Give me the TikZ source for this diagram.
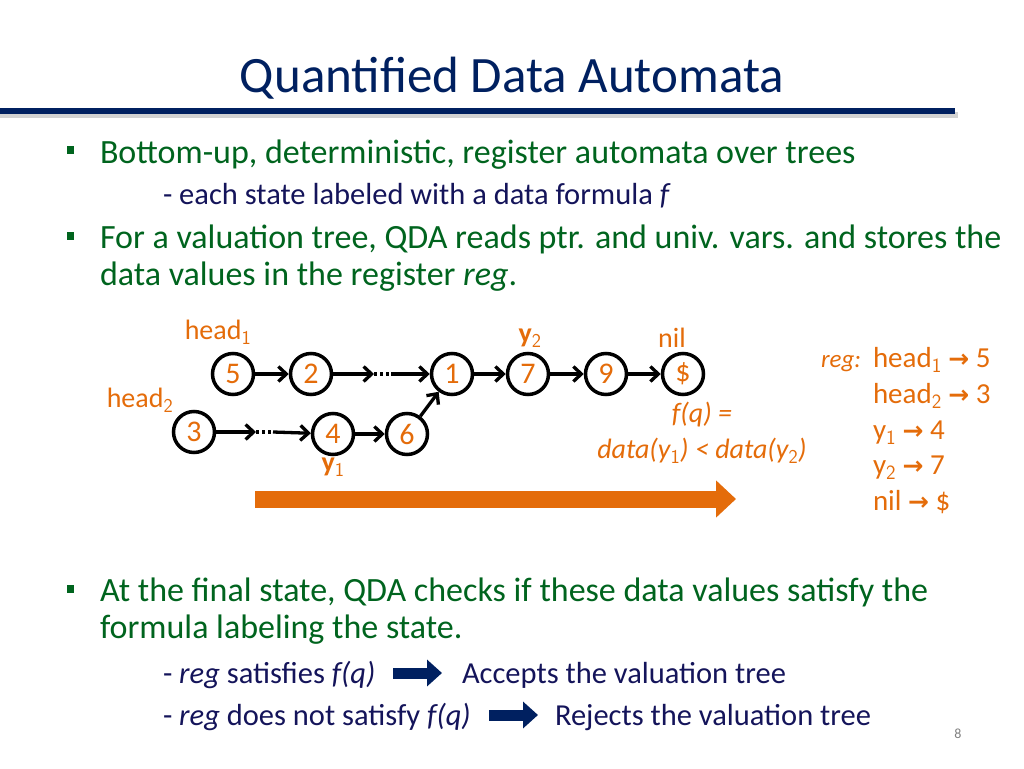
\documentclass[tikz,border=0pt]{standalone}
\usepackage{fontspec}
\setmainfont{Carlito}
\newfontfamily\symfont{DejaVu Sans}
\usetikzlibrary{arrows.meta}
\definecolor{navy}{RGB}{0,32,96}
\definecolor{subnavy}{RGB}{20,20,90}
\definecolor{bulgreen}{RGB}{0,100,30}
\definecolor{orng}{RGB}{228,108,10}
\newcommand{\ra}{{\symfont\bfseries\fontsize{25}{28}\selectfont →}}
\tikzset{
  txt/.style={anchor=base west, inner sep=0pt, outer sep=0pt},
  bodytxt/.style={txt, text=bulgreen, font=\fontsize{34}{38}\selectfont},
  subtxt/.style={txt, text=subnavy, font=\fontsize{30.5}{34}\selectfont},
  bulletsq/.style={fill=bulgreen, minimum width=7pt, minimum height=8pt, inner sep=0pt},
  st/.style={circle, draw=black, line width=3.5pt, minimum size=41pt, inner sep=0pt, text=orng, font=\fontsize{30}{32}\selectfont},
  lbl/.style={text=orng, inner sep=0pt, font=\fontsize{28}{30}\selectfont},
  edge/.style={line width=3.3pt, -{Straight Barb[length=8pt,width=15pt,line width=3.3pt]}},
  dots/.style={line width=3.3pt, dash pattern=on 2.5pt off 3.5pt},
  regtxt/.style={txt, text=orng, font=\fontsize{29}{32}\selectfont},
  blockarr/.style={navy, line width=11pt, -{Triangle[length=15pt,width=26pt]}},
}
\begin{document}
\begin{tikzpicture}[x=1pt,y=-1pt]
\useasboundingbox (0,0) rectangle (1024,768);
% title
\node[anchor=base, inner sep=0pt, text=navy, font=\fontsize{51}{56}\selectfont] (title) at (512,92) {Quantified Data Automata};
\fill[gray!35] (0,112) rectangle (958,118);
\fill[navy] (0,108) rectangle (955,114);
% bullets
\node[bulletsq] (b1) at (70,150) {};
\node[bodytxt] (t1) at (100,163) {Bottom-up, deterministic, register automata over trees};
\node[subtxt] (s1) at (163,204) {- each state labeled with a data formula \textit{f}};
\node[bulletsq] (b2) at (70,236) {};
\node[bodytxt] (t2) at (100,248) {For a valuation tree, QDA reads ptr. and univ. vars. and stores the};
\node[bodytxt] (t2b) at (100,285) {data values in the register \textit{reg}.};
% diagram
\node[st] (n5) at (233,374) {5};
\node[st] (n2) at (311,374) {2};
\node[st] (n1) at (452,374) {1};
\node[st] (n7) at (528,374) {7};
\node[st] (n9) at (606,374) {9};
\node[st] (nd) at (683,374) {\$};
\node[st] (n3) at (194,432) {3};
\node[st] (n4) at (333,434) {4};
\node[st] (n6) at (407,434) {6};
\node[lbl] (lh1) at (218,332) {head$_{\mathsf{1}}$};
\node[lbl] (lh2) at (140,400) {head$_{\mathsf{2}}$};
\node[lbl, font=\bfseries\fontsize{28}{30}\selectfont] (ly1) at (333,467) {y$_{\mathsf{1}}$};
\node[lbl, font=\bfseries\fontsize{28}{30}\selectfont] (ly2) at (530,338) {y$_{\mathsf{2}}$};
\node[lbl] (lnil) at (672,338) {nil};
\coordinate (d1a) at (374,374);
\coordinate (d1b) at (391,374);
\coordinate (d2a) at (256,432);
\coordinate (d2b) at (273,432);
\draw[edge] (n5) -- (n2);
\draw[edge] (n2) -- (d1a);
\draw[dots] (d1a) -- (d1b);
\draw[edge] (d1b) -- (n1);
\draw[edge] (n1) -- (n7);
\draw[edge] (n7) -- (n9);
\draw[edge] (n9) -- (nd);
\draw[edge] (n3) -- (d2a);
\draw[dots] (d2a) -- (d2b);
\draw[edge] (d2b) -- (n4);
\draw[edge] (n4) -- (n6);
\draw[edge] (n6) -- (n1);
\node[lbl, font=\itshape\fontsize{28}{30}\selectfont] (fq) at (702,415) {f(q) =};
\node[lbl, font=\itshape\fontsize{28}{30}\selectfont] (fdata) at (702,451) {data(y$_{\mathsf{1}}$) < data(y$_{\mathsf{2}}$)};
% big orange arrow
\coordinate (oa) at (255,499);
\coordinate (ob) at (736,499);
\draw[orng, line width=17pt, -{Triangle[length=20pt,width=36pt]}] (oa) -- (ob);
% register
\node[regtxt, font=\itshape\fontsize{25}{30}\selectfont] (reg) at (821,367) {reg:};
\node[regtxt] (r1) at (873,367) {head$_{\mathsf{1}}$ \ra\ 5};
\node[regtxt] (r2) at (873,403) {head$_{\mathsf{2}}$ \ra\ 3};
\node[regtxt] (r3) at (873,439) {y$_{\mathsf{1}}$ \ra\ 4};
\node[regtxt] (r4) at (873,474) {y$_{\mathsf{2}}$ \ra\ 7};
\node[regtxt] (r5) at (873,510) {nil \ra\ \$};
% bottom bullet
\node[bulletsq] (b3) at (70,589) {};
\node[bodytxt] (t3) at (100,601) {At the final state, QDA checks if these data values satisfy the};
\node[bodytxt] (t3b) at (100,638) {formula labeling the state.};
\node[subtxt] (s2) at (163,683) {- \textit{reg} satisfies \textit{f(q)}};
\coordinate (a1s) at (393,673);
\coordinate (a1e) at (442,673);
\draw[blockarr] (a1s) -- (a1e);
\node[subtxt] (s2b) at (462,683) {Accepts the valuation tree};
\node[subtxt] (s3) at (163,725) {- \textit{reg} does not satisfy \textit{f(q)}};
\coordinate (a2s) at (489,715);
\coordinate (a2e) at (538,715);
\draw[blockarr] (a2s) -- (a2e);
\node[subtxt] (s3b) at (555,725) {Rejects the valuation tree};
\node[anchor=base, inner sep=0pt, text=gray, font=\fontsize{14}{16}\selectfont] (pg) at (958,738) {8};
\end{tikzpicture}
\end{document}
